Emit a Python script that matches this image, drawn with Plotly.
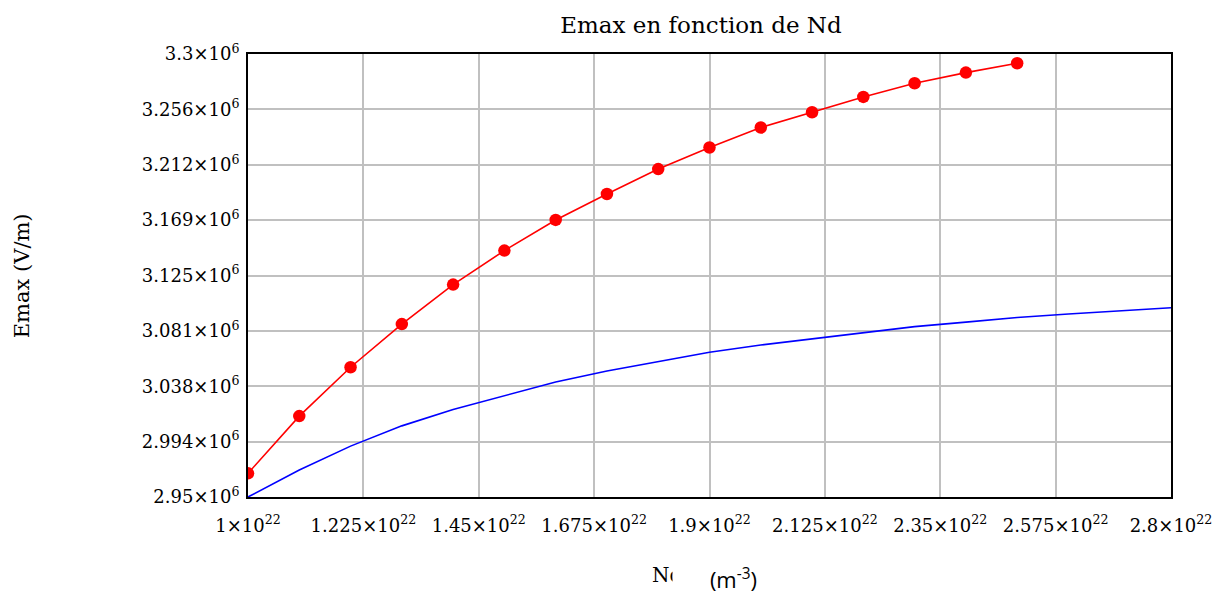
import plotly.graph_objects as go

# Data
nd_red = [1.0e22, 1.1e22, 1.2e22, 1.3e22, 1.4e22, 1.5e22, 1.6e22, 1.7e22,
          1.8e22, 1.9e22, 2.0e22, 2.1e22, 2.2e22, 2.3e22, 2.4e22, 2.5e22]
emax_red = [2.9687e6, 3.0139e6, 3.0525e6, 3.0866e6, 3.1178e6, 3.1447e6, 3.1689e6, 3.1894e6,
            3.2091e6, 3.2261e6, 3.2419e6, 3.2540e6, 3.2661e6, 3.2769e6, 3.2853e6, 3.2927e6]

nd_blue = [1.0e22, 1.1e22, 1.2e22, 1.3e22, 1.4e22, 1.5e22, 1.6e22, 1.7e22, 1.8e22, 1.9e22,
           2.0e22, 2.1e22, 2.2e22, 2.3e22, 2.4e22, 2.5e22, 2.6e22, 2.7e22, 2.8e22]
emax_blue = [2.9500e6, 2.9713e6, 2.9902e6, 3.0062e6, 3.0191e6, 3.0299e6, 3.0409e6, 3.0496e6,
             3.0567e6, 3.0643e6, 3.0701e6, 3.0750e6, 3.0800e6, 3.0846e6, 3.0882e6, 3.0918e6,
             3.0946e6, 3.0971e6, 3.0995e6]

x_tick_values = [1.0e22, 1.225e22, 1.45e22, 1.675e22, 1.9e22, 2.125e22, 2.35e22, 2.575e22, 2.8e22]
x_tick_labels = ["1×10<sup>22</sup>", "1.225×10<sup>22</sup>", "1.45×10<sup>22</sup>",
                 "1.675×10<sup>22</sup>", "1.9×10<sup>22</sup>", "2.125×10<sup>22</sup>",
                 "2.35×10<sup>22</sup>", "2.575×10<sup>22</sup>", "2.8×10<sup>22</sup>"]

y_tick_values = [2.95e6, 2.99375e6, 3.0375e6, 3.08125e6, 3.125e6, 3.16875e6, 3.2125e6, 3.25625e6, 3.3e6]
y_tick_labels = ["2.95×10<sup>6</sup>", "2.994×10<sup>6</sup>", "3.038×10<sup>6</sup>",
                 "3.081×10<sup>6</sup>", "3.125×10<sup>6</sup>", "3.169×10<sup>6</sup>",
                 "3.212×10<sup>6</sup>", "3.256×10<sup>6</sup>", "3.3×10<sup>6</sup>"]

SERIF = "DejaVu Serif"

fig = go.Figure()
fig.add_trace(go.Scatter(x=nd_blue, y=emax_blue, mode="lines",
                         line=dict(color="#0000ff", width=1.6), showlegend=False))
fig.add_trace(go.Scatter(x=nd_red, y=emax_red, mode="lines+markers",
                         line=dict(color="#ff0000", width=1.6),
                         marker=dict(color="#ff0000", size=12.5), showlegend=False))

axis_common = dict(showgrid=True, gridcolor="#c0c0c0", gridwidth=1.5,
                   showline=True, linecolor="black", linewidth=2, mirror=True,
                   zeroline=False, ticks="",
                   tickfont=dict(family=SERIF, size=18, color="black"))

fig.update_layout(
    width=1228, height=594, autosize=False,
    margin=dict(l=248, r=57, t=54, b=97),
    paper_bgcolor="white", plot_bgcolor="white",
    title=dict(text="Emax en fonction de Nd", font=dict(family=SERIF, size=23, color="black"),
               xref="container", x=701 / 1228, xanchor="center",
               yref="container", y=1 - 25 / 594, yanchor="middle"),
    xaxis=dict(range=[1.0e22, 2.8e22], tickmode="array", tickvals=x_tick_values,
               ticktext=x_tick_labels, ticklabelstandoff=11, **axis_common),
    yaxis=dict(range=[2.95e6, 3.3e6], tickmode="array", tickvals=y_tick_values,
               ticktext=y_tick_labels, ticklabelstandoff=3, **axis_common),
    annotations=[
        dict(text="Emax (V/m)", xref="paper", yref="paper", x=(22 - 248) / 922, y=0.5,
             xanchor="center", yanchor="middle", textangle=-90, showarrow=False,
             font=dict(family=SERIF, size=21, color="black")),
        dict(text="Nd", xref="paper", yref="paper", x=(650 - 248) / 922, y=(497 - 575) / 443,
             xanchor="left", yanchor="middle", showarrow=False,
             font=dict(family=SERIF, size=20, color="black")),
        dict(text="(m<sup>-3</sup>)", xref="paper", yref="paper", x=(672 - 248) / 922,
             y=(497 - 578) / 443, xanchor="left", yanchor="middle", showarrow=False,
             width=84, align="right", bgcolor="white", borderpad=0,
             font=dict(family="Open Sans", size=22, color="black")),
    ],
)

fig.write_html("out.html")
